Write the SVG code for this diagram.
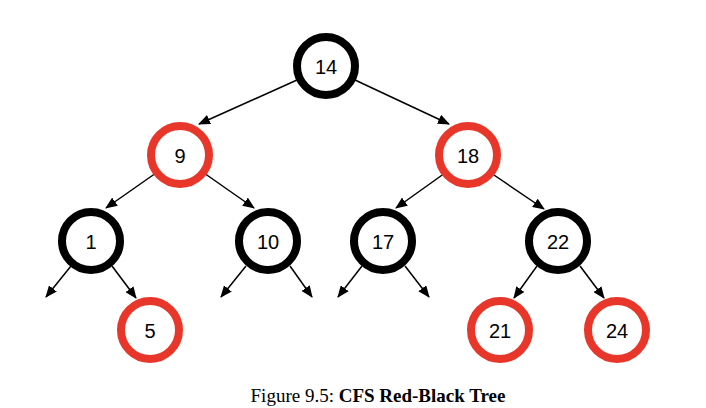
<svg xmlns="http://www.w3.org/2000/svg" width="706" height="408" viewBox="0 0 706 408">
<defs>
<marker id="ah" markerWidth="12" markerHeight="10" refX="11" refY="5" orient="auto" markerUnits="userSpaceOnUse">
<path d="M0,0 L12,5 L0,10 Z" fill="#000"/>
</marker>
<style>
.n circle{fill:#fff;stroke-width:8}
.b circle{stroke:#000}
.r circle{stroke:#E8372A}
.n text{font-family:"Liberation Sans",Arial,sans-serif;font-size:20px;fill:#000;text-anchor:middle;dominant-baseline:central}
.e line{stroke:#000;stroke-width:1.5;marker-end:url(#ah)}
.cap{font-family:"Liberation Serif","Times New Roman",serif;font-size:19px;fill:#000}
</style>
</defs>
<rect width="706" height="408" fill="#fff"/>
<g id="connectors" class="e">
<line x1="297" y1="80" x2="199" y2="124"/>
<line x1="355" y1="80" x2="449" y2="124"/>
<line x1="156" y1="173" x2="106" y2="208"/>
<line x1="204" y1="173" x2="254" y2="208"/>
<line x1="445" y1="173" x2="396" y2="208"/>
<line x1="491" y1="173" x2="544" y2="209"/>
<line x1="71" y1="266" x2="46" y2="297"/>
<line x1="112" y1="266" x2="136" y2="298"/>
<line x1="246" y1="266" x2="221" y2="297"/>
<line x1="290" y1="266" x2="312" y2="297"/>
<line x1="362" y1="266" x2="338" y2="297"/>
<line x1="405" y1="266" x2="429" y2="297"/>
<line x1="537" y1="266" x2="514" y2="298"/>
<line x1="580" y1="266" x2="604" y2="298"/>
</g>
<g id="n14" class="n b"><circle cx="326" cy="66" r="29"/><text x="326" y="67">14</text></g>
<g id="n9" class="n r"><circle cx="180" cy="155" r="29"/><text x="180" y="156">9</text></g>
<g id="n18" class="n r"><circle cx="468" cy="155" r="29"/><text x="468" y="156">18</text></g>
<g id="n1" class="n b"><circle cx="91" cy="241" r="29"/><text x="91" y="242">1</text></g>
<g id="n10" class="n b"><circle cx="268" cy="241" r="29"/><text x="268" y="242">10</text></g>
<g id="n17" class="n b"><circle cx="383" cy="241" r="29"/><text x="383" y="242">17</text></g>
<g id="n22" class="n b"><circle cx="558" cy="241" r="29"/><text x="558" y="242">22</text></g>
<g id="n5" class="n r"><circle cx="150" cy="330" r="29"/><text x="150" y="331">5</text></g>
<g id="n21" class="n r"><circle cx="500" cy="330" r="29"/><text x="500" y="331">21</text></g>
<g id="n24" class="n r"><circle cx="617" cy="330" r="29"/><text x="617" y="331">24</text></g>
<text class="cap" x="378" y="402" text-anchor="middle">Figure 9.5: <tspan font-weight="bold">CFS Red-Black Tree</tspan></text>
</svg>
